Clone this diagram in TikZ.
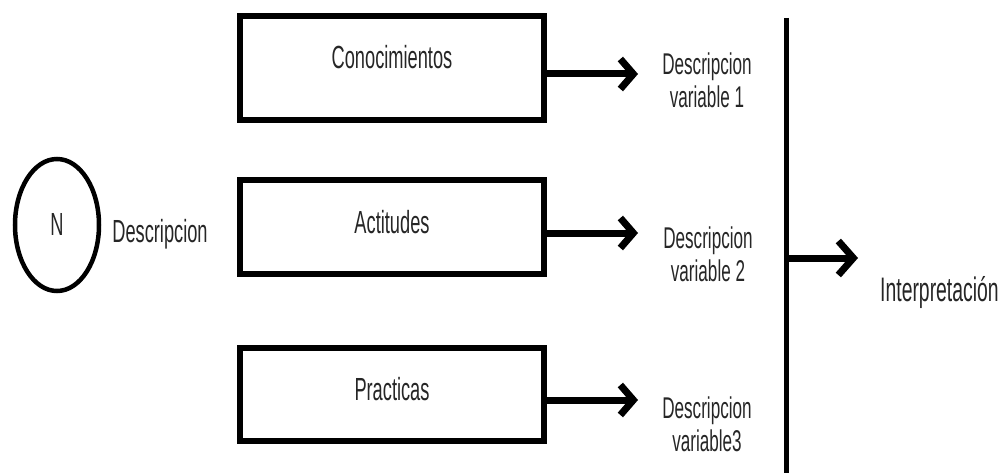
\documentclass[tikz,border=0pt]{standalone}
\usepackage{fontspec}
\setmainfont{Liberation Sans}[FakeStretch=0.57]
\usetikzlibrary{arrows.meta,shapes.geometric}
\begin{document}
\begin{tikzpicture}[x=1pt,y=-1pt,
  lbl/.style={font=\fontsize{32}{34}\selectfont, inner sep=0pt, text=black!85},
  desc/.style={font=\fontsize{30}{33}\selectfont, inner sep=0pt, align=center, text=black!85},
  box/.style={draw, line width=6.5pt, minimum width=304pt, minimum height=#1, inner sep=0pt},
  arr/.style={line width=7pt, -{Straight Barb[length=13pt,width=30pt]}},
  bigarr/.style={line width=7pt, -{Straight Barb[length=15pt,width=34pt]}}]
\useasboundingbox (0,0) rectangle (1003,473);
% left ellipse
\node[draw, line width=4.5pt, ellipse, minimum width=84pt, minimum height=132pt, inner sep=0pt] (N) at (57,225) {};
\node[lbl] (Nl) at (57,224) {N};
\node[lbl] (d0) at (160,234) {Descripcion};
% boxes
\node[box=104pt] (b1) at (392,68) {};
\node[box=94pt] (b2) at (392,227) {};
\node[box=93pt] (b3) at (392,394.5) {};
\node[lbl] (t1) at (392,57) {Conocimientos};
\node[lbl] (t2) at (392,222) {Actitudes};
\node[lbl] (t3) at (392,389) {Practicas};
% descriptions
\node[desc] (v1) at (707,80) {Descripcion\\variable 1};
\node[desc] (v2) at (708,254) {Descripcion\\variable 2};
\node[desc] (v3) at (707,424) {Descripcion\\variable3};
% arrows
\coordinate (e1) at (638,74);
\coordinate (e2) at (638,233);
\coordinate (e3) at (638,400);
\draw[arr] (b1.east |- e1) -- (e1);
\draw[arr] (b2.east |- e2) -- (e2);
\draw[arr] (b3.east |- e3) -- (e3);
% vertical bar
\coordinate (vt) at (786,18);
\coordinate (vb) at (786,473);
\draw[line width=5pt] (vt) -- (vb);
\coordinate (vm) at (786,258);
\coordinate (vh) at (858,258);
\draw[bigarr] (vm) -- (vh);
\node[lbl, anchor=west, font=\fontsize{34}{36}\selectfont] (I) at (880,293) {Interpretación};
\end{tikzpicture}
\end{document}
